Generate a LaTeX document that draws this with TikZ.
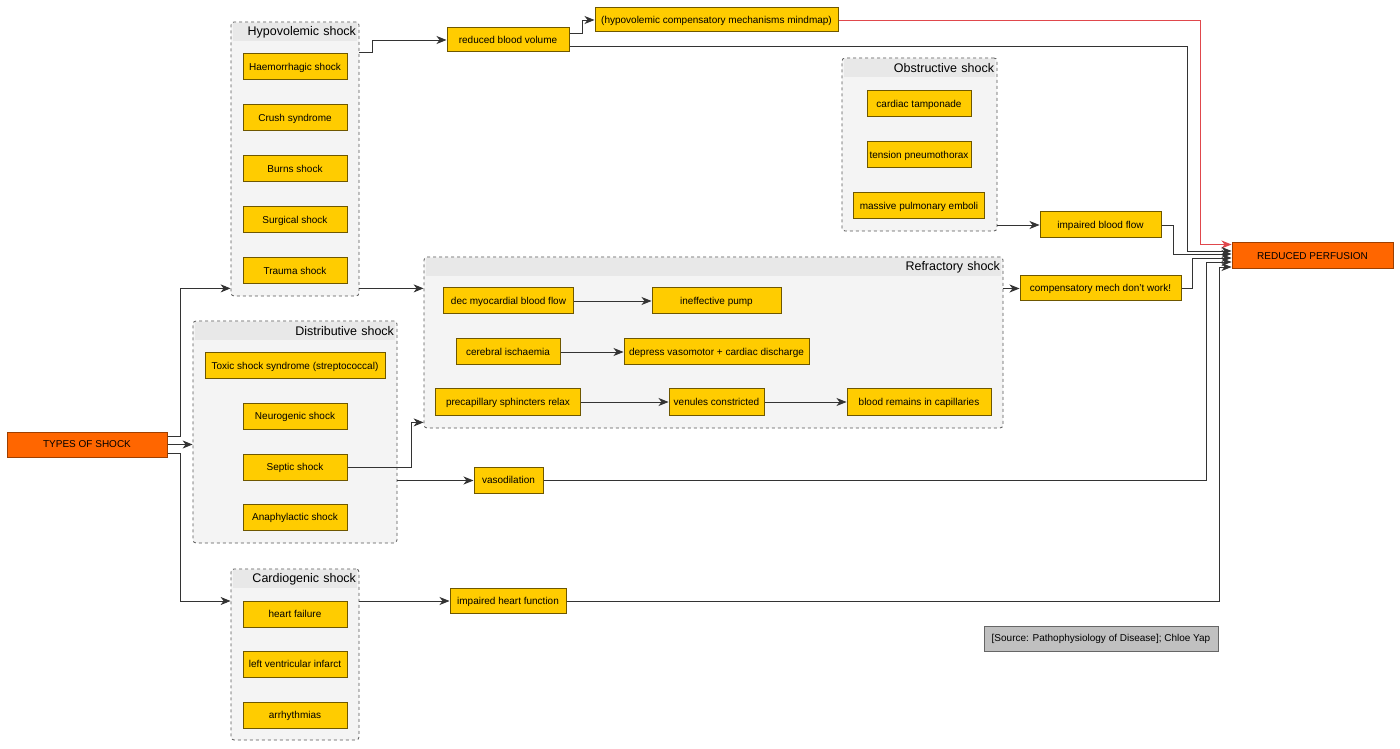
\documentclass[tikz,border=0pt]{standalone}
\usepackage{fontspec}
\setmainfont{Liberation Sans}
\usetikzlibrary{arrows.meta,positioning}
\definecolor{boxyellow}{HTML}{FFCC00}
\definecolor{boxline}{HTML}{6E5700}
\definecolor{shockorange}{HTML}{FF6600}
\definecolor{orangeline}{HTML}{9E3F00}
\definecolor{groupfill}{HTML}{F4F4F4}
\definecolor{headfill}{HTML}{E8E8E8}
\definecolor{groupline}{HTML}{555555}
\definecolor{wiregray}{HTML}{333333}
\definecolor{redwire}{HTML}{E0474C}
\definecolor{notegray}{HTML}{C0C0C0}
\tikzstyle{block} = [draw=boxline, fill=boxyellow, rectangle, line width=1pt,
    minimum height=26pt, inner xsep=2pt, inner ysep=0pt, text height=7.2pt, text depth=0.8pt,
    font=\fontsize{10}{12}\selectfont]
\tikzstyle{cause} = [block, minimum width=104pt]
\tikzstyle{hub} = [block, draw=orangeline, fill=shockorange]
\tikzstyle{note} = [block, draw=black!60, fill=notegray, minimum height=25pt]
\tikzstyle{groupbox} = [draw=groupline, dashed, fill=groupfill, rectangle,
    rounded corners=3pt, line width=0.8pt]
\tikzstyle{grouphead} = [fill=headfill, rectangle, inner xsep=1pt, inner ysep=0pt,
    minimum height=18.5pt, align=right, anchor=north, font=\fontsize{12.5}{14}\selectfont]
\tikzstyle{link} = [draw=wiregray, line width=0.9pt]

\begin{document}
\begin{tikzpicture}[x=1pt, y=1pt, node distance=51pt, >={Stealth[length=10pt,width=8pt,inset=3pt]}]
    \useasboundingbox (0,0) rectangle (1400,748);
    % groups
    \node [groupbox, minimum width=128pt, minimum height=274pt] (hypo) at (295,589) {};
    \node [grouphead, text width=122pt] (hypohead) at ([yshift=-1pt]hypo.north) {Hypovolemic shock};
    \node [groupbox, minimum width=204pt, minimum height=222pt] (distr) at (295,316) {};
    \node [grouphead, text width=198pt] (distrhead) at ([yshift=-1pt]distr.north) {Distributive shock};
    \node [groupbox, minimum width=128pt, minimum height=171pt] (cardio) at (295,93.5) {};
    \node [grouphead, text width=122pt] (cardiohead) at ([yshift=-1pt]cardio.north) {Cardiogenic shock};
    \node [groupbox, minimum width=155pt, minimum height=173pt] (obstr) at (919.5,603.5) {};
    \node [grouphead, text width=149pt] (obstrhead) at ([yshift=-1pt]obstr.north) {Obstructive shock};
    \node [groupbox, minimum width=579pt, minimum height=171pt] (refr) at (713.5,405.5) {};
    \node [grouphead, text width=573pt] (refrhead) at ([yshift=-1pt]refr.north) {Refractory shock};

    % hypovolemic
    \node [cause] (haem) at (295,681) {Haemorrhagic shock};
    \node [cause, below of=haem] (crush) {Crush syndrome};
    \node [cause, below of=crush] (burns) {Burns shock};
    \node [cause, below of=burns] (surg) {Surgical shock};
    \node [cause, below of=surg] (trauma) {Trauma shock};

    % distributive
    \begin{scope}[node distance=50.5pt]
    \node [block, minimum width=180pt] (toxic) at (295,382) {Toxic shock syndrome (streptococcal)};
    \node [cause, below of=toxic] (neuro) {Neurogenic shock};
    \node [cause, below of=neuro] (septic) {Septic shock};
    \node [cause, below of=septic] (anaph) {Anaphylactic shock};

    % cardiogenic
    \node [cause] (heartf) at (295,134) {heart failure};
    \node [cause, below of=heartf] (lvi) {left ventricular infarct};
    \node [cause, below of=lvi] (arrh) {arrhythmias};
    \end{scope}

    % obstructive
    \node [cause] (tamp) at (919,644) {cardiac tamponade};
    \node [cause, below of=tamp] (tension) {tension pneumothorax};
    \node [block, minimum width=131pt, below of=tension] (emboli) {massive pulmonary emboli};

    % refractory
    \node [block, minimum width=130pt] (dec) at (508.5,447) {dec myocardial blood flow};
    \node [block, minimum width=129pt, node distance=208pt, right of=dec] (pump) {ineffective pump};
    \node [block, minimum width=104pt] (cereb) at (508,396) {cerebral ischaemia};
    \node [block, minimum width=185pt, node distance=208.5pt, right of=cereb] (depress) {depress vasomotor + cardiac discharge};
    \node [block, minimum width=145pt] (precap) at (508,346) {precapillary sphincters relax};
    \node [block, minimum width=95pt, node distance=208.5pt, right of=precap] (venules) {venules constricted};
    \node [block, minimum width=144pt, node distance=202.5pt, right of=venules] (blood) {blood remains in capillaries};

    % outcomes
    \node [hub, minimum width=160pt, minimum height=25pt] (types) at (87,303.5) {TYPES OF SHOCK};
    \node [block, minimum width=122pt, minimum height=24pt] (rbv) at (508,708) {reduced blood volume};
    \node [block, minimum width=243pt, minimum height=24pt] (mindmap) at (716.5,728) {(hypovolemic compensatory mechanisms mindmap)};
    \node [block, minimum width=121pt] (ibf) at (1100.5,523) {impaired blood flow};
    \node [block, minimum width=161pt, minimum height=25pt] (comp) at (1100.5,459.5) {compensatory mech don't work!};
    \node [block, minimum width=69pt] (vaso) at (508.5,267.5) {vasodilation};
    \node [block, minimum width=116pt, minimum height=25pt] (ihf) at (508,147) {impaired heart function};
    \node [hub, minimum width=161pt] (rp) at (1312.5,492) {REDUCED PERFUSION};
    \node [note, minimum width=234pt] (source) at (1101,109.5) {[Source: Pathophysiology of Disease]; Chloe Yap};

    % connectors
    \draw [->, link] ([yshift=8.5pt]types.east) -- ++(13,0) |- ([yshift=8pt]hypo.south west);
    \draw [->, link] (types.east) -- (types.east -| distr.west);
    \draw [->, link] ([yshift=-8.5pt]types.east) -- ++(13,0) |- (cardio.west |- ihf);
    \draw [->, link] ([yshift=-31pt]hypo.north east) -- ++(13,0) |- (rbv);
    \draw [->, link] ([yshift=8pt]hypo.south east) -- ([yshift=8pt]hypo.south east -| refr.west);
    \draw [->, link] (septic.east) -- ++(64,0) |- ([yshift=6pt]refr.south west);
    \draw [->, link] (distr.east |- vaso) -- (vaso);
    \draw [->, link] (cardio.east |- ihf) -- (ihf);
    \draw [->, link] ([yshift=7pt]rbv.east) -- ++(13,0) |- (mindmap);
    \draw [->, link] (obstr.east |- ibf) -- (ibf);
    \draw [->, link] (refr.east |- comp) -- (comp);
    \draw [->, link] (dec) -- (pump);
    \draw [->, link] (cereb) -- (depress);
    \draw [->, link] (precap) -- (venules);
    \draw [->, link] (venules) -- (blood);

    % into reduced perfusion
    \draw [->, link, draw=redwire] (mindmap.east) -| ([xshift=-31pt,yshift=-2pt]rp.north west) -- ([yshift=-2pt]rp.north west);
    \draw [->, link] ([yshift=-6pt]rbv.east) -| ([xshift=-44pt,yshift=5pt]rp.west) -- ([yshift=5pt]rp.west);
    \draw [->, link] (ibf.east) -| ([xshift=-58pt,yshift=2pt]rp.west) -- ([yshift=2pt]rp.west);
    \draw [->, link] (comp.east) -| ([xshift=-39pt,yshift=-2pt]rp.west) -- ([yshift=-2pt]rp.west);
    \draw [->, link] (vaso.east) -| ([xshift=-25pt,yshift=-6pt]rp.west) -- ([yshift=-6pt]rp.west);
    \draw [->, link] (ihf.east) -| ([xshift=-12pt,yshift=-11pt]rp.west) -- ([yshift=-11pt]rp.west);
\end{tikzpicture}
\end{document}
